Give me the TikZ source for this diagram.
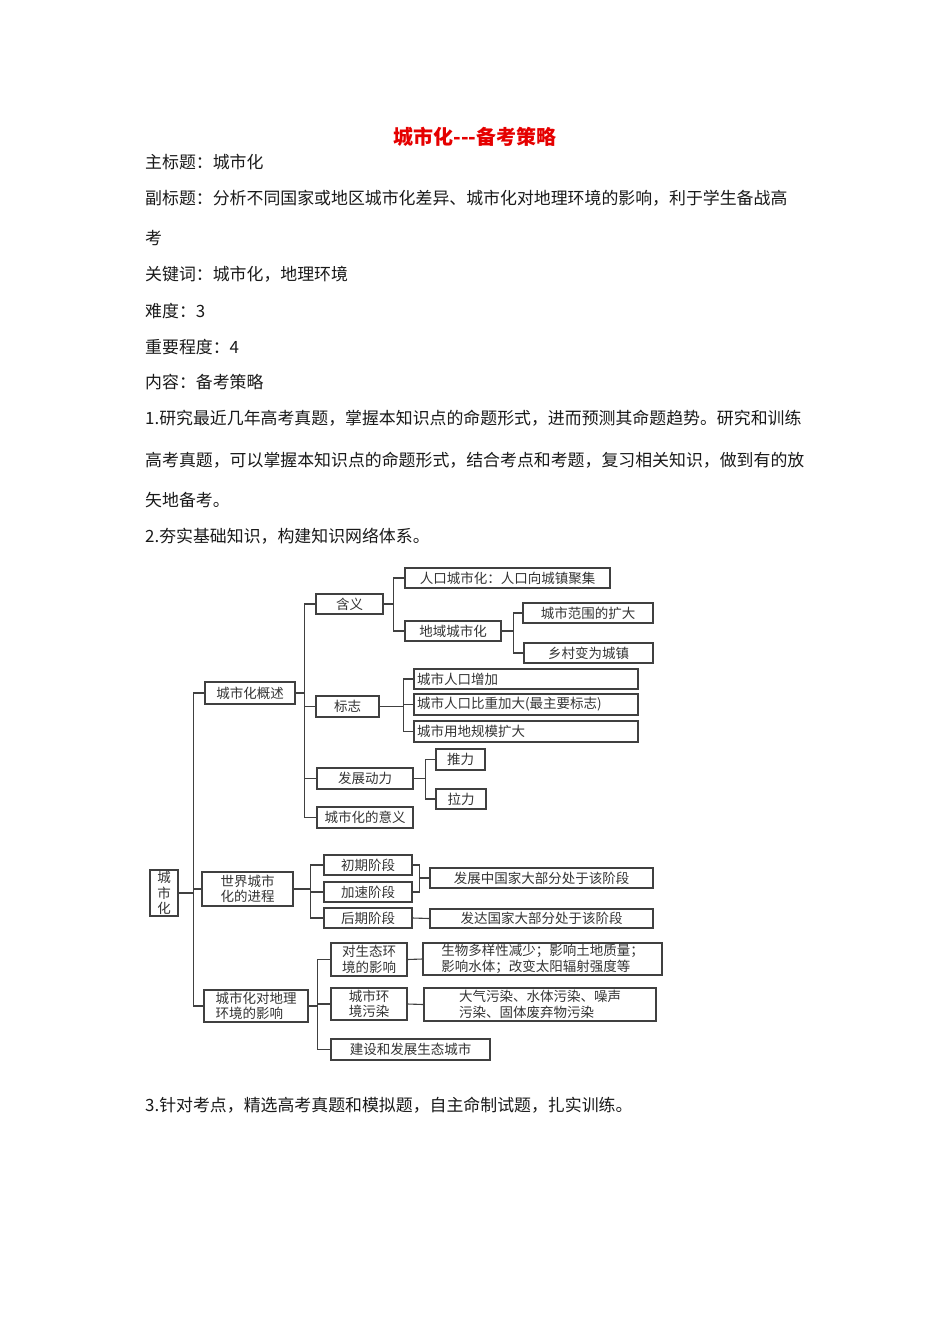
\documentclass[tikz,border=0pt]{standalone}
\usepackage{fontspec}
\setmainfont{Noto Sans CJK SC}[Ligatures=NoCommon]
\begin{document}
\begin{tikzpicture}[x=1pt,y=-1pt,
  bx/.style={draw=black!75,line width=1.1pt,inner sep=0pt,font=\fontsize{13.5}{15}\selectfont,text=black!80},
  lbx/.style={bx,align=left},
  ln/.style={draw=black!75,line width=1.1pt},
  body/.style={anchor=west,inner sep=0pt,font=\fontsize{16.9}{18}\selectfont,text=black!90}]
\useasboundingbox (0,0) rectangle (950,1344);
\newcommand\bx[7][bx]{\node[#1,minimum width={#5-#3},minimum height={#6-#4}] (#2) at ({(#3+#5)/2},{(#4+#6)/2}) {#7};}
\node[font=\fontsize{20}{22}\selectfont\bfseries,text=red!90!black] (title) at (475,137) {城市化{-}{-}{-}备考策略};
\node[body] (l1) at (145,162) {主标题：城市化};
\node[body] (l2) at (145,198) {副标题：分析不同国家或地区城市化差异、城市化对地理环境的影响，利于学生备战高};
\node[body] (l3) at (145,238) {考};
\node[body] (l4) at (145,274) {关键词：城市化，地理环境};
\node[body] (l5) at (145,311) {难度：3};
\node[body] (l6) at (145,347) {重要程度：4};
\node[body] (l7) at (145,382) {内容：备考策略};
\node[body] (l8) at (145,418) {1.研究最近几年高考真题，掌握本知识点的命题形式，进而预测其命题趋势。研究和训练};
\node[body] (l9) at (145,460) {高考真题，可以掌握本知识点的命题形式，结合考点和考题，复习相关知识，做到有的放};
\node[body] (l10) at (145,500) {矢地备考。};
\node[body] (l11) at (145,536) {2.夯实基础知识，构建知识网络体系。};
\node[body] (l12) at (145,1105) {3.针对考点，精选高考真题和模拟题，自主命制试题，扎实训练。};
% boxes
\bx{root}{150}{870}{178}{916}{\shortstack{城\\市\\化}}
\bx{gs}{205}{682}{295}{704}{城市化概述}
\bx{hy}{316}{594}{383}{614}{含义}
\bx{rk}{405}{568}{610}{588}{人口城市化：人口向城镇聚集}
\bx{dy}{405}{621}{501}{641}{地域城市化}
\bx{fw}{523}{603}{653}{623}{城市范围的扩大}
\bx{xc}{524}{643}{653}{663}{乡村变为城镇}
\bx{bz}{316}{696}{379}{717}{标志}
\bx[lbx,text width=218pt]{b1}{414}{669}{638}{689}{城市人口增加}
\bx[lbx,text width=218pt]{b2}{414}{694}{638}{715}{城市人口比重加大(最主要标志)}
\bx[lbx,text width=218pt]{b3}{414}{721}{638}{742}{城市用地规模扩大}
\bx{dl}{317}{768}{413}{789}{发展动力}
\bx{tl}{436}{749}{485}{770}{推力}
\bx{ll}{436}{789}{486}{809}{拉力}
\bx{yy}{317}{807}{413}{828}{城市化的意义}
\bx{sj}{202}{872}{293}{906}{\shortstack{世界城市\\化的进程}}
\bx{cq}{324}{855}{412}{875}{初期阶段}
\bx{js}{324}{882}{412}{902}{加速阶段}
\bx{hq}{324}{908}{412}{928}{后期阶段}
\bx{fzz}{430}{868}{653}{888}{发展中国家大部分处于该阶段}
\bx{fd}{430}{909}{653}{928}{发达国家大部分处于该阶段}
\bx{yx}{204}{990}{308}{1022}{\shortstack[l]{城市化对地理\\环境的影响}}
\bx{st}{331}{943}{407}{976}{\shortstack{对生态环\\境的影响}}
\bx{sw}{423}{943}{662}{975}{\shortstack[l]{生物多样性减少；影响土地质量；\\影响水体；改变太阳辐射强度等}}
\bx{wr}{331}{988}{407}{1020}{\shortstack{城市环\\境污染}}
\bx{dq}{424}{988}{656}{1021}{\shortstack[l]{大气污染、水体污染、噪声\\污染、固体废弃物污染}}
\bx{stcs}{331}{1039}{490}{1060}{建设和发展生态城市}
% connectors
\foreach \c in {gs,sj,yx} \draw[ln] (root.east) -- ++(15,0) |- (\c.west);
\foreach \c in {hy,bz,dl,yy} \draw[ln] (gs.east) -- ++(9,0) |- (\c.west);
\foreach \c in {rk,dy} \draw[ln] (hy.east) -- ++(10,0) |- (\c.west);
\foreach \c in {fw,xc} \draw[ln] (dy.east) -- ++(12,0) |- (\c.west);
\foreach \c in {b1,b2,b3} \draw[ln] (bz.east) -- ++(24,0) |- (\c.west);
\foreach \c in {tl,ll} \draw[ln] (dl.east) -- ++(12,0) |- (\c.west);
\foreach \c in {cq,js,hq} \draw[ln] (sj.east) -- ++(17,0) |- (\c.west);
\foreach \c in {cq,js} \draw[ln] (\c.east) -- ++(7,0) |- (fzz.west);
\draw[ln] (hq.east) -- (fd.west);
\foreach \c in {st,wr,stcs} \draw[ln] (yx.east) -- ++(9,0) |- (\c.west);
\draw[ln] (st.east) -- (sw.west);
\draw[ln] (wr.east) -- (dq.west);
\end{tikzpicture}
\end{document}
